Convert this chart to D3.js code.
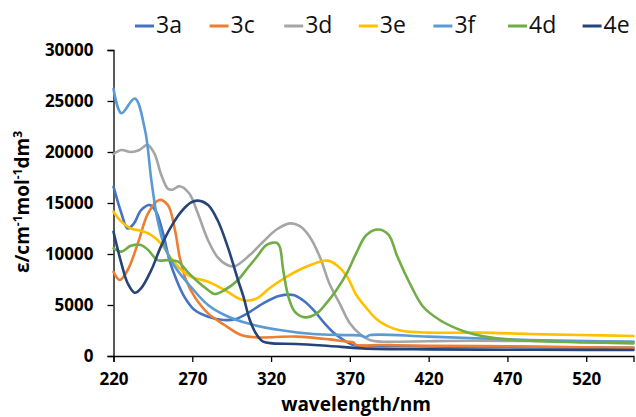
<!DOCTYPE html>
<html>
<head>
<meta charset="utf-8">
<script src="https://cdn.jsdelivr.net/npm/d3@7"></script>
<style>
  html, body { margin: 0; padding: 0; background: #fff; }
  svg { display: block; }
  text { font-family: "Open Sans", sans-serif; }
</style>
</head>
<body>
<svg id="chart" width="636" height="417"></svg>
<script>
// ---- data ----
const seriesNames = ["3a", "3c", "3d", "3e", "3f", "4d", "4e"];
const seriesColors = ["#4472C4", "#ED7D31", "#A5A5A5", "#FFC000", "#5B9BD5", "#70AD47", "#264478"];

const xTicks = [220, 270, 320, 370, 420, 470, 520];
const yTicks = [0, 5000, 10000, 15000, 20000, 25000, 30000];

const wl3a  = [220, 225, 229, 233, 237.5, 243, 247, 251.5, 255.5, 260, 265, 271.5, 280, 290, 297, 305, 315, 325, 334, 340, 347, 353, 359, 366, 372, 378, 400, 450, 500, 550];
const eps3a = [16600, 14000, 12500, 13000, 14300, 14800, 14150, 12000, 9400, 7450, 5800, 4500, 3850, 3530, 3600, 4180, 5160, 5880, 5980, 5490, 4500, 3360, 2380, 1570, 1080, 1000, 950, 900, 850, 800];

const wl3c  = [220, 224, 229, 235.5, 242, 249, 254.5, 259, 262, 266, 271.5, 280, 290.5, 301, 311, 336, 357, 368, 372, 374, 390, 420, 470, 520, 550];
const eps3c = [8250, 7450, 8430, 11050, 14000, 15300, 14800, 12350, 9700, 7450, 5800, 4180, 3040, 2060, 1830, 1900, 1630, 1400, 1350, 1080, 1080, 1000, 950, 850, 800];

const wl3d  = [220, 225, 231, 236.5, 241.5, 246, 250, 254.5, 257.5, 262, 268, 273.5, 280, 286, 292.5, 297, 306.5, 315, 323.5, 332, 338, 344.5, 351, 357, 363.5, 370, 376, 382.5, 391, 402, 420, 450, 500, 550];
const eps3d = [19800, 20200, 20000, 20200, 20700, 19850, 17900, 16400, 16300, 16650, 15950, 14000, 11350, 9700, 8900, 8800, 9900, 11200, 12400, 13000, 12750, 11700, 9700, 7100, 5150, 3200, 2200, 1570, 1400, 1400, 1450, 1500, 1450, 1400];

const wl3e  = [220, 225, 231, 237.5, 244, 250, 256.5, 263, 269, 280, 290.5, 300, 304.5, 311, 319, 330, 340, 351, 356, 361.5, 368, 374, 380.5, 387, 393, 402, 420, 452, 484, 516, 550];
const eps3e = [14150, 13170, 12500, 12280, 11860, 11050, 9580, 8430, 7780, 7280, 6470, 5600, 5420, 5650, 6640, 7780, 8600, 9250, 9350, 8920, 7850, 6000, 4700, 3600, 3000, 2500, 2290, 2290, 2160, 2060, 1960];

const wl3f  = [220, 225, 233.5, 240, 244, 248, 252.5, 259, 269, 280, 290.5, 305, 325.5, 346.5, 368, 377, 380, 383, 420, 484, 550];
const eps3f = [26200, 23800, 25250, 22150, 17250, 13300, 10700, 8750, 6800, 5000, 4020, 3200, 2550, 2150, 2050, 2000, 1850, 2050, 1900, 1570, 1400];

const wl4d  = [220, 225, 231, 237.5, 242, 248, 254.5, 261, 267, 273.5, 280, 284, 290.5, 299, 305, 311, 317, 323.5, 325.5, 327.7, 331, 335, 341.5, 349, 355, 361.5, 368, 374, 380.5, 388, 394.5, 400, 408, 416.5, 427, 437.5, 448, 463, 484, 516, 550];
const eps4d = [10550, 10230, 10800, 10880, 10390, 9400, 9400, 9250, 8250, 7280, 6470, 6080, 6470, 7450, 8600, 9730, 10880, 11100, 10700, 8430, 5800, 4350, 3790, 4180, 5160, 6470, 8100, 10060, 11860, 12400, 11900, 9800, 7130, 4830, 3530, 2710, 2160, 1730, 1500, 1340, 1240];

const wl4e  = [220, 225, 229, 233.5, 237.5, 244, 250, 256.5, 263, 269, 273.5, 280, 286, 292.5, 299, 302.5, 306.5, 311, 315, 321, 336, 357, 378, 420, 470, 520, 550];
const eps4e = [12180, 9080, 7130, 6200, 6640, 8430, 10700, 12660, 14150, 15030, 15230, 14800, 13330, 10700, 7450, 5800, 3530, 2060, 1400, 1240, 1180, 980, 750, 650, 620, 600, 590];

const seriesX = [wl3a, wl3c, wl3d, wl3e, wl3f, wl4d, wl4e];
const seriesY = [eps3a, eps3c, eps3d, eps3e, eps3f, eps4d, eps4e];

// ---- drawing ----
const svg = d3.select("#chart");
const x = d3.scaleLinear().domain([220, 550]).range([113.5, 633.5]);
const y = d3.scaleLinear().domain([0, 30000]).range([356, 50]);

// axes
const yAxis = d3.axisLeft(y).tickValues(yTicks).tickSize(6).tickPadding(14).tickFormat(d3.format("d"));
const gy = svg.append("g").attr("transform", `translate(${x(220)},0)`).call(yAxis);
const xAxis = d3.axisBottom(x).tickValues(xTicks).tickSize(6).tickPadding(11).tickFormat(d3.format("d"));
const gx = svg.append("g").attr("transform", `translate(0,${y(0)})`).call(xAxis);

[gx, gy].forEach(g => {
  g.select(".domain").attr("stroke", "#000").attr("stroke-width", 1.3);
  g.selectAll(".tick line").attr("stroke", "#000").attr("stroke-width", 1.3);
  g.selectAll(".tick text")
    .attr("fill", "#000")
    .style("font-family", "'Open Sans', sans-serif")
    .style("font-weight", "700")
    .style("font-size", "17px");
});

// lines
const line = d3.line()
  .x(d => x(d[0]))
  .y(d => y(d[1]))
  .curve(d3.curveCatmullRom.alpha(0.5));

seriesNames.forEach((name, i) => {
  const pts = seriesX[i].map((w, k) => [w, seriesY[i][k]]);
  svg.append("path")
    .datum(pts)
    .attr("fill", "none")
    .attr("stroke", seriesColors[i])
    .attr("stroke-width", 2.6)
    .attr("stroke-linejoin", "round")
    .attr("stroke-linecap", "round")
    .attr("d", line);
});

// legend
const legend = svg.append("g");
seriesNames.forEach((name, i) => {
  const x0 = 135 + i * 74.6;
  legend.append("line")
    .attr("x1", x0).attr("x2", x0 + 19)
    .attr("y1", 26).attr("y2", 26)
    .attr("stroke", seriesColors[i]).attr("stroke-width", 3);
  legend.append("text")
    .attr("x", x0 + 21).attr("y", 27)
    .attr("dominant-baseline", "middle")
    .attr("fill", "#111")
    .style("font-size", "23px")
    .text(name);
});

// axis titles
svg.append("text")
  .attr("x", 356).attr("y", 411)
  .attr("text-anchor", "middle")
  .attr("fill", "#000")
  .style("font-weight", "700")
  .style("font-size", "19px")
  .text("wavelength/nm");

const yt = svg.append("text")
  .attr("transform", "translate(29,202) rotate(-90)")
  .attr("text-anchor", "middle")
  .attr("fill", "#000")
  .style("font-weight", "700")
  .style("font-size", "19px");
yt.append("tspan").text("ε/cm");
yt.append("tspan").attr("dy", -7).style("font-size", "12px").text("-1");
yt.append("tspan").attr("dy", 7).text("mol");
yt.append("tspan").attr("dy", -7).style("font-size", "12px").text("-1");
yt.append("tspan").attr("dy", 7).text("dm");
yt.append("tspan").attr("dy", -7).style("font-size", "12px").text("3");
</script>
</body>
</html>
